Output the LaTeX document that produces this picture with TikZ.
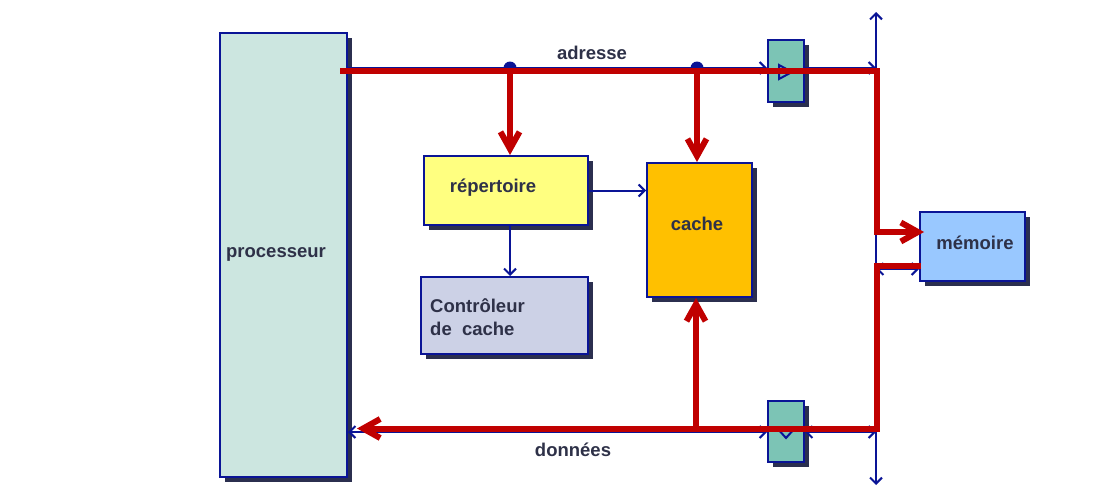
\documentclass[tikz,border=0pt]{standalone}
\usepackage{fontspec}
\setmainfont{Liberation Sans}
\usetikzlibrary{arrows.meta,shadows}
\definecolor{bordc}{HTML}{0A1496}
\definecolor{redc}{HTML}{C00000}
\definecolor{txtc}{HTML}{2E3148}
\definecolor{shc}{HTML}{2B2F4F}
\definecolor{procf}{HTML}{CCE6E0}
\definecolor{repf}{HTML}{FFFF80}
\definecolor{ctrlf}{HTML}{CCD1E6}
\definecolor{cachef}{HTML}{FFC000}
\definecolor{memf}{HTML}{99C8FF}
\definecolor{buff}{HTML}{7CC4B5}
\tikzset{
  box/.style={draw=bordc, line width=2pt, inner sep=0pt,
    drop shadow={shadow xshift=5pt, shadow yshift=-5pt, fill=shc, opacity=1}},
  lbl/.style={font=\bfseries\fontsize{18.5}{23}\selectfont, text=txtc, inner sep=0pt},
  bus/.style={draw=redc, line width=6pt},
  redtip/.style={-{Straight Barb[length=17pt,width=19pt]}},
  wire/.style={draw=bordc, line width=2pt},
  wtip/.style={-{Straight Barb[length=6pt,width=12pt]}},
  wboth/.style={{Straight Barb[length=6pt,width=12pt]}-{Straight Barb[length=6pt,width=12pt]}}
}
\begin{document}
\begin{tikzpicture}[x=1pt,y=-1pt]
\useasboundingbox (0,0) rectangle (1109,498);
% boxes
\node[box, fill=procf, minimum width=127pt, minimum height=444pt] (proc) at (283.5,255) {};
\node[box, fill=repf, minimum width=164pt, minimum height=69pt] (rep) at (506,190.5) {};
\node[box, fill=ctrlf, minimum width=167pt, minimum height=77pt] (ctrl) at (504.5,315.5) {};
\node[box, fill=cachef, minimum width=105pt, minimum height=134pt] (cache) at (699.5,230) {};
\node[box, fill=memf, minimum width=105pt, minimum height=69pt] (mem) at (972.5,246.5) {};
\node[box, fill=buff, minimum width=36pt, minimum height=62pt] (buf1) at (786,71) {};
\node[box, fill=buff, minimum width=36pt, minimum height=61pt] (buf2) at (786,431.5) {};
% labels
\node[lbl] (lproc) at (276,254) {processeur};
\node[lbl] (lrep) at (493,188) {répertoire};
\node[lbl] (lcache) at (697,224) {cache};
\node[lbl] (lmem) at (975,243) {mémoire};
\node[lbl, align=left, anchor=west] (lctrl) at (430,317) {Contrôleur\\de~~cache};
\node[lbl] (lad) at (592,53) {adresse};
\node[lbl] (ldo) at (573,450) {données};
% helper coordinates
\coordinate (btop) at (876,12);
\coordinate (bbot) at (876,485);
\coordinate (B68) at (0,68);
\coordinate (B432) at (0,432);
\coordinate (M2) at (0,269);
\coordinate (A0) at (340,71);
\coordinate (A1) at (510,71);
\coordinate (A2) at (697,71);
\coordinate (A3) at (877,71);
\coordinate (A4) at (877,232);
\coordinate (D0) at (877,428.5);
\coordinate (D1) at (877,266);
\coordinate (D2) at (696,428.5);
\coordinate (procR) at ([xshift=9pt]proc.east);
\coordinate (memL) at ([xshift=2pt]mem.west);
\coordinate (memA) at ([xshift=5pt]mem.west);
% blue wires
\draw[wire, wboth] (bbot) -- (btop);
\draw[wire, wtip] (proc.east |- B68) -- (buf1.west |- B68);
\draw[wire, wtip] (buf1.east |- B68) -- (btop |- B68);
\draw[wire, wtip] (rep.east) -- (rep.east -| cache.west);
\draw[wire, wtip] (A1 |- rep.south) -- (A1 |- ctrl.north);
\draw[wire] (btop |- A4) -- (mem.west |- A4);
\draw[wire, wboth] (btop |- M2) -- (mem.west |- M2);
\draw[wire, wboth] (proc.east |- B432) -- (buf2.west |- B432);
\draw[wire, wboth] (buf2.east |- B432) -- (btop |- B432);
% buffer symbols
\draw[wire, fill=buff, line join=miter] (779,65) -- (792,72) -- (779,79) -- cycle;
\draw[wire, fill=buff, line join=miter] (777,428) -- (795,428) -- (786,438) -- cycle;
% junction dots
\fill[bordc] (A1 |- B68) circle (6.5pt);
\fill[bordc] (A2 |- B68) circle (6.5pt);
% red buses
\draw[bus, redtip] (A0) -- (A3) -- (A4) -- (memA |- A4);
\draw[bus, redtip] (A1) -- (A1 |- rep.north);
\draw[bus, redtip] (A2) -- (A2 |- cache.north);
\draw[bus, redtip] (memL |- D1) -- (D1) -- (D0) -- (procR |- D0);
\draw[bus, redtip] (D2) -- (D2 |- cache.south);
\end{tikzpicture}
\end{document}
